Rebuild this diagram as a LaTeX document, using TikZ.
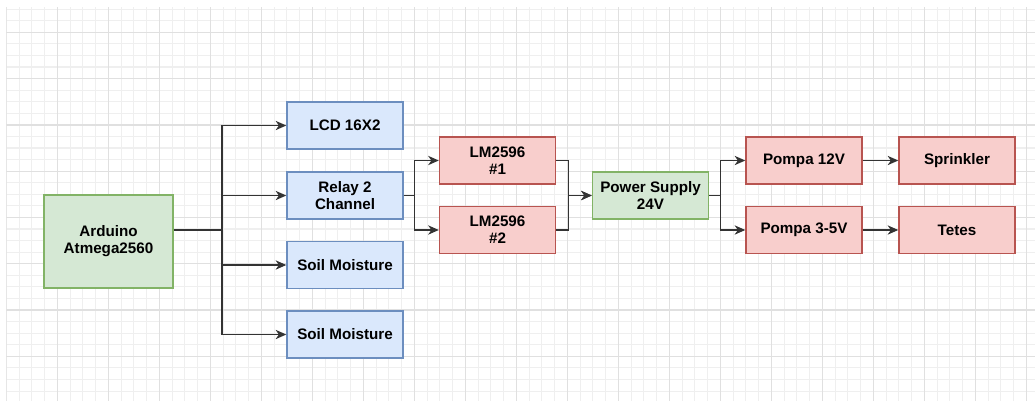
\documentclass[tikz,border=0pt]{standalone}
\usepackage{fontspec}
\setmainfont{Liberation Sans}
\usepackage{tikz}
\usetikzlibrary{arrows.meta}

\definecolor{greenfill}{HTML}{D5E8D4}
\definecolor{greenline}{HTML}{82B366}
\definecolor{bluefill}{HTML}{DAE8FC}
\definecolor{blueline}{HTML}{6C8EBF}
\definecolor{redfill}{HTML}{F8CECC}
\definecolor{redline}{HTML}{B85450}
\definecolor{gridminor}{HTML}{EFEFEF}
\definecolor{gridmajor}{HTML}{E0E0E0}

\begin{document}
\begin{tikzpicture}[x=0.75pt, y=-0.75pt,
    block/.style={rectangle, draw, line width=1.1pt, text centered, align=center, minimum width=87pt, minimum height=35pt, inner sep=1pt, font=\fontsize{11.4}{12.8}\selectfont\bfseries},
    greenbox/.style={block, fill=greenfill, draw=greenline},
    bluebox/.style={block, fill=bluefill, draw=blueline},
    redbox/.style={block, fill=redfill, draw=redline},
    link/.style={line width=0.9pt, draw=black!80},
    arrow/.style={link, -{Stealth[length=8pt, width=7pt, inset=2.5pt]}}]
    \useasboundingbox (0,0) rectangle (1035,401);
    \fill[white] (0,0) rectangle (1035,401);
    % grid
    \begin{scope}
        \clip (6.3,7) rectangle (1035,401);
        \foreach \k in {0,...,81} \draw[gridminor, line width=0.8pt] (6.3+\k*12.75, 7) -- (6.3+\k*12.75, 401);
        \foreach \k in {-1,...,34} \draw[gridminor, line width=0.8pt] (6.3, 9.1+\k*11.575) -- (1035, 9.1+\k*11.575);
        \foreach \k in {0,...,20} \draw[gridmajor, line width=1pt] (6.3+\k*51, 7) -- (6.3+\k*51, 401);
        \foreach \k in {0,...,8} \draw[gridmajor, line width=1pt] (6.3, 32.3+\k*46.3) -- (1035, 32.3+\k*46.3);
    \end{scope}
    % blocks
    \node [greenbox, minimum width=96.75pt, minimum height=69.75pt] (ard) at (108.5, 241.5) {Arduino\\Atmega2560};
    \node [bluebox] (lcd) at (345, 125.5) {LCD 16X2};
    \node [bluebox] (relay) at (345, 195.5) {Relay 2\\Channel};
    \node [bluebox] (soil1) at (345, 265) {Soil Moisture};
    \node [bluebox] (soil2) at (345, 334.5) {Soil Moisture};
    \node [redbox] (lm1) at (497.5, 160.5) {LM2596\\\#1};
    \node [redbox] (lm2) at (497.5, 230) {LM2596\\\#2};
    \node [greenbox] (psu) at (650.5, 195.5) {Power Supply\\24V};
    \node [redbox] (pump1) at (804, 160.5) {Pompa 12V};
    \node [redbox] (pump2) at (804, 230) {Pompa 3-5V};
    \node [redbox] (spr) at (957, 160.5) {Sprinkler};
    \node [redbox] (tetes) at (957, 230) {Tetes};
    % connectors
    \coordinate (hub) at (222, 230);
    \draw[link] (ard.east |- hub) -- (hub);
    \foreach \t in {lcd, relay, soil1, soil2}
        \draw[arrow] (hub) |- (\t.west);
    \draw[arrow] (relay.east) -- ++(11,0) |- (lm1.west);
    \draw[arrow] (relay.east) -- ++(11,0) |- (lm2.west);
    \draw[arrow] (lm1.east) -- ++(12,0) |- (psu.west);
    \draw[arrow] (lm2.east) -- ++(12,0) |- (psu.west);
    \draw[arrow] (psu.east) -- ++(11,0) |- (pump1.west);
    \draw[arrow] (psu.east) -- ++(11,0) |- (pump2.west);
    \draw[arrow] (pump1) -- (spr);
    \draw[arrow] (pump2) -- (tetes);
\end{tikzpicture}
\end{document}
